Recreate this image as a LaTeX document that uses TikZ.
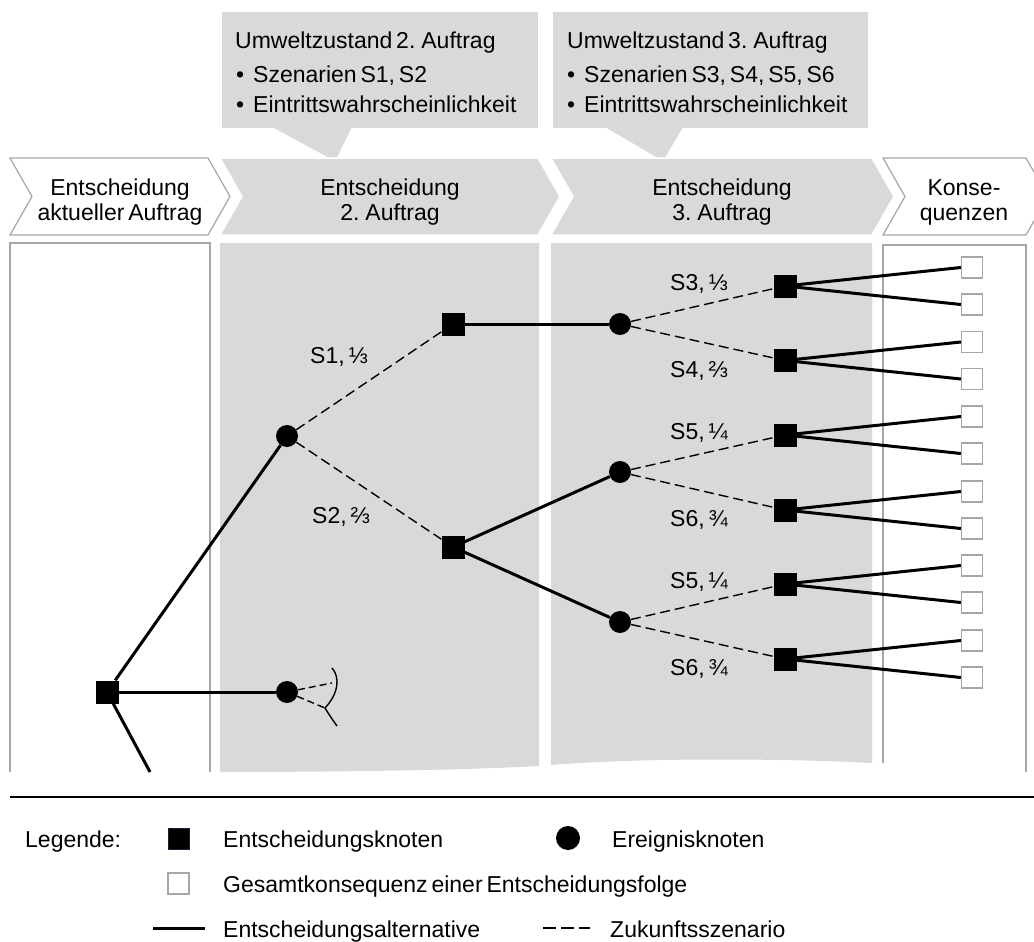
\documentclass[tikz,border=0pt]{standalone}
\usepackage{fontspec}
\setmainfont[WordSpace=0.6]{Liberation Sans}
\definecolor{panelgray}{HTML}{D9D9D9}
\definecolor{framegray}{HTML}{A6A6A6}
\definecolor{navy}{HTML}{17233D}
\begin{document}
\begin{tikzpicture}[x=1pt,y=-1pt,
  every node/.style={font=\fontsize{23}{27}\selectfont, inner sep=0pt},
  txt/.style={anchor=base west},
  ctxt/.style={anchor=base},
  frame/.style={draw=framegray, line width=1.2pt},
  dnode/.style={rectangle, fill=black, minimum size=23pt},
  enode/.style={circle, fill=black, minimum size=22pt},
  cnode/.style={rectangle, draw=framegray, fill=white, line width=1.2pt, minimum size=21pt},
  alt/.style={line width=3pt},
  scen/.style={line width=1.4pt, dash pattern=on 10pt off 5pt},
]
\useasboundingbox (0,0) rectangle (1034,942);
\clip (0,0) rectangle (1034,942);

% callouts with pointers
\fill[panelgray] (222,12) rectangle (538,128);
\fill[panelgray] (272,127) -- (335,161) -- (352,127) -- cycle;
\fill[panelgray] (553,12) rectangle (868,128);
\fill[panelgray] (605,127) -- (663,161) -- (683,127) -- cycle;

\node[txt] (u2) at (235,49) {Umweltzustand 2. Auftrag};
\node[txt] (u2a) at (236,82) {\makebox[17pt][l]{•}Szenarien S1, S2};
\node[txt] (u2b) at (236,112) {\makebox[17pt][l]{•}Eintrittswahrscheinlichkeit};
\node[txt] (u3) at (567,49) {Umweltzustand 3. Auftrag};
\node[txt] (u3a) at (567,82) {\makebox[17pt][l]{•}Szenarien S3, S4, S5, S6};
\node[txt] (u3b) at (567,112) {\makebox[17pt][l]{•}Eintrittswahrscheinlichkeit};

% process chevrons
\draw[frame, fill=white] (10,158) -- (208,158) -- (230,196.5) -- (208,235) -- (10,235) -- (32,196.5) -- cycle;
\draw[fill=panelgray, draw=white, line width=1.5pt] (220,158) -- (538,158) -- (560,196.5) -- (538,235) -- (220,235) -- (242,196.5) -- cycle;
\draw[fill=panelgray, draw=white, line width=1.5pt] (551,158) -- (872,158) -- (894,196.5) -- (872,235) -- (551,235) -- (573,196.5) -- cycle;
\draw[frame, fill=white] (883,158) -- (1026,158) -- (1048,196.5) -- (1026,235) -- (883,235) -- (905,196.5) -- cycle;

\node[ctxt] (c1a) at (120,195) {Entscheidung};
\node[ctxt] (c1b) at (120,220) {aktueller Auftrag};
\node[ctxt] (c2a) at (390,195) {Entscheidung};
\node[ctxt] (c2b) at (390,220) {2. Auftrag};
\node[ctxt] (c3a) at (722,195) {Entscheidung};
\node[ctxt] (c3b) at (722,220) {3. Auftrag};
\node[ctxt] (c4a) at (964,195) {Konse-};
\node[ctxt] (c4b) at (964,220) {quenzen};

% columns
\draw[frame] (10,772) -- (10,243) -- (210,243) -- (210,772);
\fill[panelgray] (220,243) -- (539,243) -- (539,766) .. controls (450,771) and (300,772) .. (220,772) -- cycle;
\fill[panelgray] (551,243) -- (872,243) -- (872,763) .. controls (800,759) and (650,757) .. (551,765) -- cycle;
\draw[frame] (883,763) -- (883,245) -- (1026,245) -- (1026,772);

% decision tree nodes
\node[dnode] (d0) at (107,692) {};
\node[enode] (e1) at (287,436) {};
\node[enode] (e0) at (287,692) {};
\node[dnode] (d1) at (453,324) {};
\node[dnode] (d2) at (453,547) {};
\node[enode] (e2) at (620,324) {};
\node[enode] (e3) at (620,472) {};
\node[enode] (e4) at (620,622) {};
\foreach \i/\y in {3/286,4/360.5,5/435,6/510,7/584,8/659}{
  \node[dnode] (d\i) at (785,\y) {};
  \node[cnode] (k\i a) at (972,\y-18.5) {};
  \node[cnode] (k\i b) at (972,\y+18.5) {};
}
\coordinate (dn) at (150,772);
\coordinate (f1) at (332,683);
\coordinate (f2) at (325,708);

% decision alternatives
\draw[alt] (d0) -- (e1);
\draw[alt] (d0) -- (e0);
\draw[alt] (d0) -- (dn);
\draw[alt] (d1) -- (e2);
\draw[alt] (d2) -- (e3);
\draw[alt] (d2) -- (e4);
\foreach \i in {3,...,8}{
  \draw[alt] (d\i) -- (k\i a.west);
  \draw[alt] (d\i) -- (k\i b.west);
}

% scenarios
\draw[scen] (e1) -- (d1);
\draw[scen] (e1) -- (d2);
\draw[scen] (e2) -- (d3);
\draw[scen] (e2) -- (d4);
\draw[scen] (e3) -- (d5);
\draw[scen] (e3) -- (d6);
\draw[scen] (e4) -- (d7);
\draw[scen] (e4) -- (d8);
\draw[line width=1.4pt, dash pattern=on 7pt off 4pt] (e0) -- (f1);
\draw[line width=1.4pt, dash pattern=on 7pt off 4pt] (e0) -- (f2);
\draw[line width=1.4pt] (332,668) .. controls (340,677) and (339,693) .. (f2) .. controls (330,716) .. (337,726);

% scenario labels
\node[txt] (s1) at (310,363) {S1, ⅓};
\node[txt] (s2) at (312,523) {S2, ⅔};
\node[txt] (s3) at (670,290) {S3, ⅓};
\node[txt] (s4) at (670,377) {S4, ⅔};
\node[txt] (s5) at (670,439) {S5, ¼};
\node[txt] (s6) at (670,526) {S6, ¾};
\node[txt] (s7) at (670,588) {S5, ¼};
\node[txt] (s8) at (670,675) {S6, ¾};

% legend
\draw[line width=2.5pt] (10,797) -- (1034,797);
\node[txt] (lg) at (25,847) {Legende:};
\node[rectangle, fill=black, draw=navy, line width=1pt, minimum size=21pt] (lgd) at (178.5,838.5) {};
\node[txt] (lgdt) at (223,847) {Entscheidungsknoten};
\node[enode, minimum size=24pt] (lge) at (568,838) {};
\node[txt] (lget) at (612,847) {Ereignisknoten};
\node[cnode] (lgk) at (178.5,883.5) {};
\node[txt] (lgkt) at (223,892) {Gesamtkonsequenz einer Entscheidungsfolge};
\coordinate (la1) at (153,928);
\coordinate (la2) at (205,928);
\draw[alt] (la1) -- (la2);
\node[txt] (lgat) at (223,937) {Entscheidungsalternative};
\coordinate (ls1) at (543,928);
\coordinate (ls2) at (590,928);
\draw[line width=1.4pt, dash pattern=on 13pt off 5pt] (ls1) -- (ls2);
\node[txt] (lgst) at (610,937) {Zukunftsszenario};
\end{tikzpicture}
\end{document}
